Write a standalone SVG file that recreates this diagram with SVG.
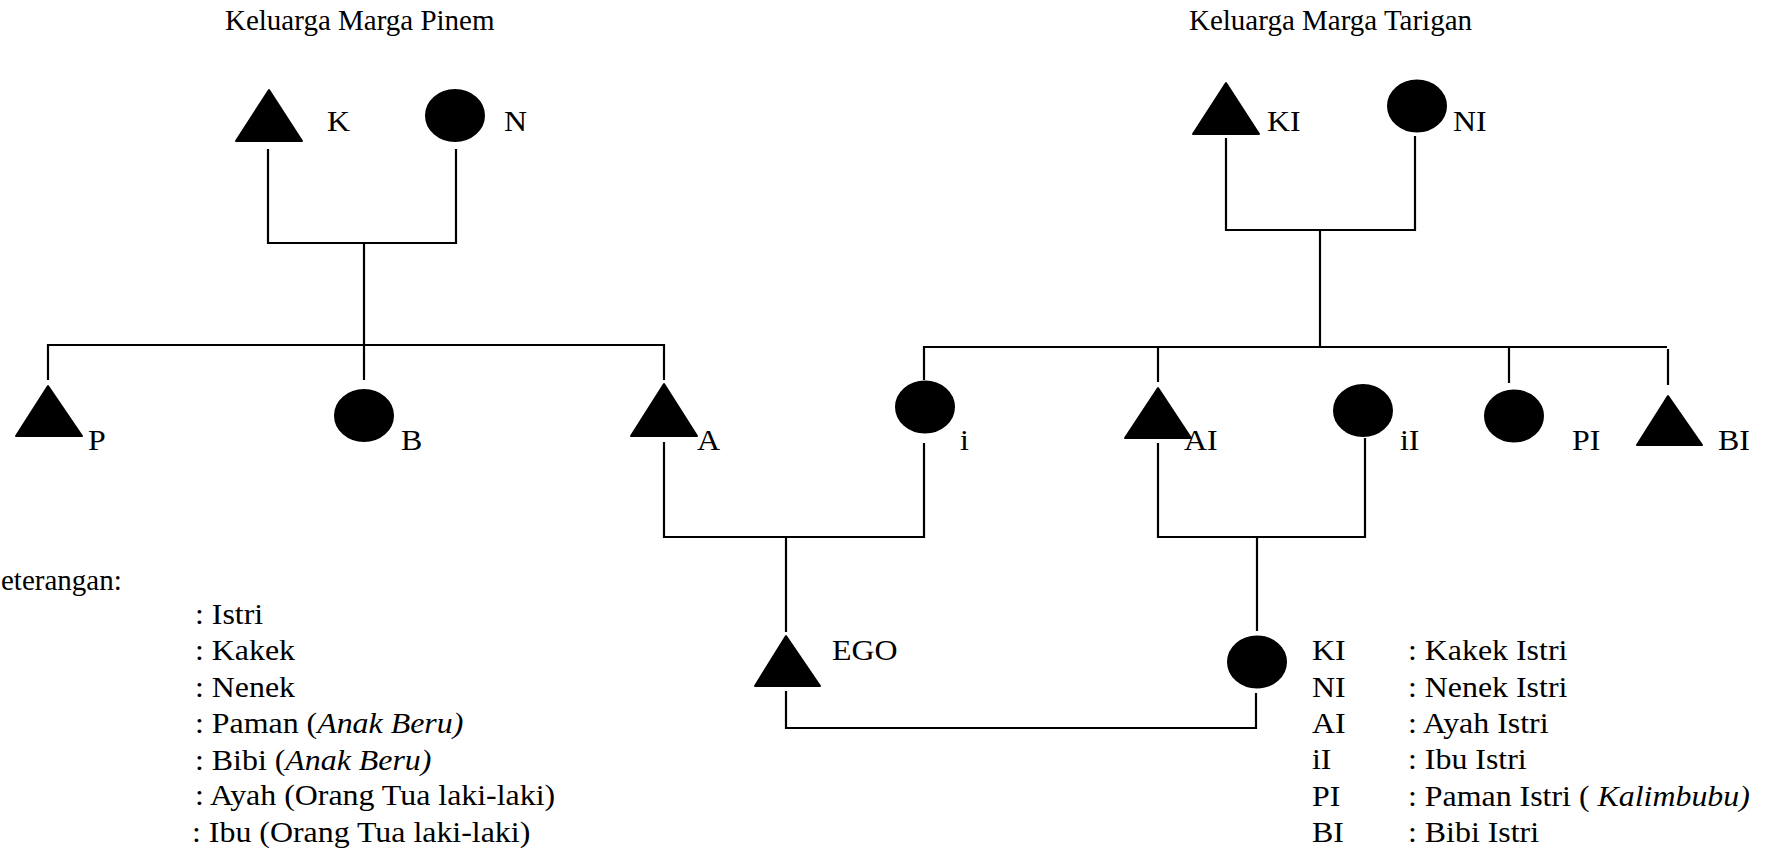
<svg xmlns="http://www.w3.org/2000/svg" width="1769" height="852" viewBox="0 0 1769 852">
<style>
  text { font-family: "Liberation Serif", "Times New Roman", serif; font-size: 29px; fill: #000; }
  .title { font-size: 29px; }
  .w { transform-box: fill-box; transform-origin: 0 0; transform: scaleX(1.1); }
  .it { font-style: italic; }
  .tri, .cir { fill: #000; stroke: #000; stroke-width: 2; stroke-linejoin: round; }
  .conn path { fill: none; stroke: #000; stroke-width: 2.2; }
</style>
<rect width="1769" height="852" fill="#fff"/>

<text class="title" x="225" y="30">Keluarga Marga Pinem</text>
<text class="title" x="1189" y="30">Keluarga Marga Tarigan</text>

<g id="connectors" class="conn">
  <path d="M268,149 V243 H456 V149"/>
  <path d="M364,243 V380"/>
  <path d="M48,380 V345 H664 V380"/>
  <path d="M1226,138 V230 H1415 V136"/>
  <path d="M1320,230 V347"/>
  <path d="M924,380 V347 H1667"/>
  <path d="M1158,347 V382"/>
  <path d="M1509,347 V383"/>
  <path d="M1668,349 V385"/>
  <path d="M664,442 V537 H924 V443"/>
  <path d="M786,537 V632"/>
  <path d="M1158,443 V537 H1365 V438"/>
  <path d="M1257,537 V631"/>
  <path d="M786,691 V728 H1256 V693"/>
</g>

<g id="node-K"><polygon class="tri" points="269,90 236,141 302,141"/><text class="w" x="327" y="131">K</text></g>
<g id="node-N"><ellipse class="cir" cx="455" cy="115.5" rx="29" ry="25.5"/><text class="w" x="504" y="131">N</text></g>
<g id="node-KI"><polygon class="tri" points="1226,83 1193,134 1259,134"/><text class="w" x="1267" y="131">KI</text></g>
<g id="node-NI"><ellipse class="cir" cx="1417" cy="106" rx="29" ry="25.5"/><text class="w" x="1453" y="131">NI</text></g>
<g id="node-P"><polygon class="tri" points="48,386 16,436 82,436"/><text class="w" x="88" y="450">P</text></g>
<g id="node-B"><ellipse class="cir" cx="364" cy="415.5" rx="29" ry="25.5"/><text class="w" x="401" y="450">B</text></g>
<g id="node-A"><polygon class="tri" points="664,384 631,436 697,436"/><text class="w" x="697" y="450">A</text></g>
<g id="node-i"><ellipse class="cir" cx="925" cy="407" rx="29" ry="25.5"/><text class="w" x="960" y="450">i</text></g>
<g id="node-AI"><polygon class="tri" points="1158,388 1125,438 1191,438"/><text class="w" x="1184" y="450">AI</text></g>
<g id="node-iI"><ellipse class="cir" cx="1363" cy="410.5" rx="29" ry="25.5"/><text class="w" x="1400" y="450">iI</text></g>
<g id="node-PI"><ellipse class="cir" cx="1514" cy="416" rx="29" ry="25.5"/><text class="w" x="1572" y="450">PI</text></g>
<g id="node-BI"><polygon class="tri" points="1668,396 1637,445 1702,445"/><text class="w" x="1718" y="450">BI</text></g>
<g id="node-EGO"><polygon class="tri" points="786,636 755,686 820,686"/><text class="w" x="832" y="660">EGO</text></g>
<g id="node-wife"><ellipse class="cir" cx="1257" cy="662" rx="29" ry="25.5"/></g>

<g id="legend-left">
  <text x="1" y="590">eterangan:</text>
  <text class="w" x="195" y="624">: Istri</text>
  <text class="w" x="195" y="660">: Kakek</text>
  <text class="w" x="195" y="697">: Nenek</text>
  <text class="w" x="195" y="733">: Paman (<tspan class="it">Anak Beru)</tspan></text>
  <text class="w" x="195" y="770">: Bibi (<tspan class="it">Anak Beru)</tspan></text>
  <text class="w" x="195" y="805">: Ayah (Orang Tua laki-laki)</text>
  <text class="w" x="192" y="842">: Ibu (Orang Tua laki-laki)</text>
</g>

<g id="legend-right">
  <text class="w" x="1312" y="660">KI</text>
  <text class="w" x="1312" y="697">NI</text>
  <text class="w" x="1312" y="733">AI</text>
  <text class="w" x="1312" y="769">iI</text>
  <text class="w" x="1312" y="806">PI</text>
  <text class="w" x="1312" y="842">BI</text>
  <text class="w" x="1408" y="660">: Kakek Istri</text>
  <text class="w" x="1408" y="697">: Nenek Istri</text>
  <text class="w" x="1408" y="733">: Ayah Istri</text>
  <text class="w" x="1408" y="769">: Ibu Istri</text>
  <text class="w" x="1408" y="806">: Paman Istri ( <tspan class="it">Kalimbubu)</tspan></text>
  <text class="w" x="1408" y="842">: Bibi Istri</text>
</g>
</svg>
